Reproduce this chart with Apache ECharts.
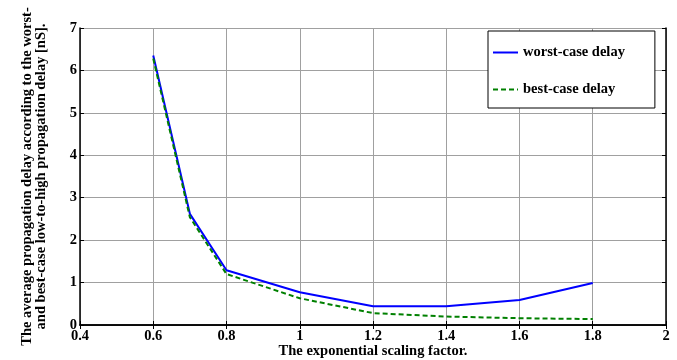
<!DOCTYPE html>
<html>
<head>
<meta charset="utf-8">
<script src="https://cdn.jsdelivr.net/npm/echarts@6/dist/echarts.min.js"></script>
<style>
  html, body { margin: 0; padding: 0; background: #fff; }
  #chart { width: 677px; height: 360px; }
</style>
</head>
<body>
<div id="chart"></div>
<script>
// scaling factor on the x axis
const factors = [0.6, 0.7, 0.8, 1.0, 1.2, 1.4, 1.6, 1.8];
// average delay, nS
const worstCase = [6.35, 2.62, 1.29, 0.77, 0.44, 0.44, 0.59, 0.99];
const bestCase = [6.28, 2.54, 1.20, 0.63, 0.28, 0.20, 0.16, 0.14];

const font = 'Liberation Serif, Times New Roman, serif';
const pair = (ys) => factors.map((x, i) => [x, ys[i]]);

const boxAxis = {
  axisLine: { show: true, lineStyle: { color: '#000', width: 1.5 } },
  axisTick: { show: true, inside: true, length: 4, lineStyle: { color: '#000' } },
  axisLabel: { show: false },
  splitLine: { show: false }
};

const chart = echarts.init(document.getElementById('chart'));
chart.setOption({
  animation: false,
  grid: { left: 80, right: 11, top: 28, bottom: 35, outerBoundsMode: 'none', containLabel: false },
  legend: {
    orient: 'vertical',
    left: 488,
    top: 31,
    itemWidth: 25,
    itemHeight: 14,
    itemGap: 22,
    padding: [14, 30, 11, 4],
    backgroundColor: '#fff',
    borderColor: '#000',
    borderWidth: 1,
    itemStyle: { opacity: 0 },
    textStyle: { fontFamily: font, fontWeight: 'bold', fontSize: 14.5, color: '#000' },
    data: ['worst-case delay', 'best-case delay']
  },
  xAxis: [
    {
      type: 'value', min: 0.4, max: 2, interval: 0.2,
      name: 'The exponential scaling factor.',
      nameLocation: 'middle', nameGap: 19, nameMoveOverlap: false,
      nameTextStyle: { fontFamily: font, fontWeight: 'bold', fontSize: 14.5, color: '#000' },
      axisLine: { show: true, onZero: false, lineStyle: { color: '#000', width: 1.5 } },
      axisTick: { show: true, inside: true, length: 4, lineStyle: { color: '#000' } },
      axisLabel: {
        margin: 4, fontFamily: font, fontWeight: 'bold', fontSize: 14.5, color: '#000',
        formatter: (v) => String(+v.toFixed(1))
      },
      splitLine: { show: true, lineStyle: { color: '#a0a0a0', width: 1 } }
    },
    Object.assign({ type: 'value', position: 'top', min: 0.4, max: 2, interval: 0.2 }, boxAxis)
  ],
  yAxis: [
    {
      type: 'value', min: 0, max: 7, interval: 1,
      name: 'The average propagation delay according to the worst-\nand best-case low-to-high propagation delay [nS].',
      nameLocation: 'middle', nameGap: 32, nameRotate: 90, nameMoveOverlap: false,
      nameTextStyle: { fontFamily: font, fontWeight: 'bold', fontSize: 14.5, color: '#000', lineHeight: 14, align: 'center' },
      axisLine: { show: true, onZero: false, lineStyle: { color: '#000', width: 1.5 } },
      axisTick: { show: true, inside: true, length: 4, lineStyle: { color: '#000' } },
      axisLabel: { margin: 3, fontFamily: font, fontWeight: 'bold', fontSize: 14.5, color: '#000' },
      splitLine: { show: true, lineStyle: { color: '#a0a0a0', width: 1 } }
    },
    Object.assign({ type: 'value', position: 'right', min: 0, max: 7, interval: 1 }, boxAxis)
  ],
  series: [
    {
      name: 'worst-case delay', type: 'line', symbol: 'none',
      lineStyle: { color: '#0000ff', width: 2 }, itemStyle: { color: '#0000ff' },
      data: pair(worstCase)
    },
    {
      name: 'best-case delay', type: 'line', symbol: 'none',
      lineStyle: { color: '#008000', width: 2, type: [5, 3] }, itemStyle: { color: '#008000' },
      data: pair(bestCase)
    }
  ]
});
</script>
</body>
</html>
